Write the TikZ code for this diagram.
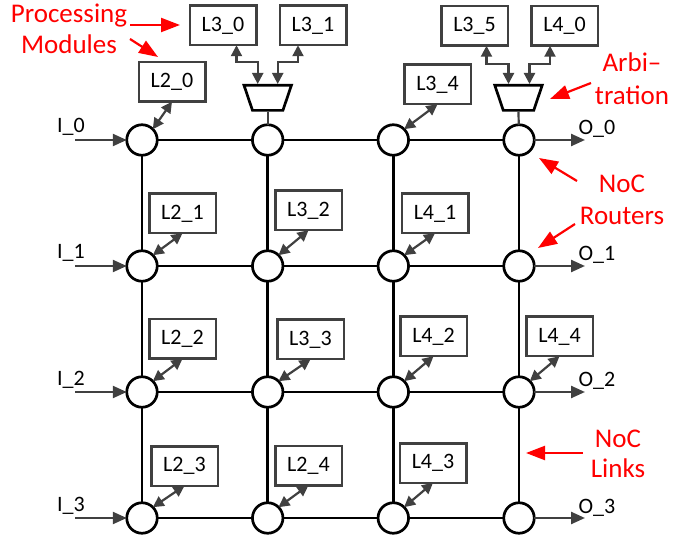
\documentclass[tikz,border=0pt]{standalone}
\usepackage{fontspec}
\setmainfont{Carlito}
\usetikzlibrary{arrows.meta,calc}
\definecolor{dkgray}{HTML}{404040}
\definecolor{annored}{HTML}{FF0000}

\begin{document}
\begin{tikzpicture}[x=1pt,y=-1pt,
  router/.style={circle, draw=black, line width=2.7pt, fill=white,
    minimum size=30.5pt, inner sep=0pt, outer sep=0pt},
  module/.style={draw=dkgray, line width=2.5pt, fill=white,
    minimum width=66.5pt, minimum height=39.5pt, inner sep=0pt, outer sep=0pt,
    font=\fontsize{22}{24}\selectfont},
  arbiter/.style={draw=black, line width=2.7pt, fill=white, line join=miter},
  link/.style={draw=black, line width=2.7pt},
  tap/.style={draw=dkgray, line width=2.2pt},
  iolbl/.style={font=\fontsize{22}{24}\selectfont, inner sep=0pt, anchor=base},
  ioarrow/.style={draw=dkgray, line width=2.4pt, -{Triangle[length=14pt,width=12pt]}},
  modarrow/.style={draw=dkgray, line width=2.2pt,
    {Triangle[length=11pt,width=11pt]}-{Triangle[length=11pt,width=11pt]}},
  arbarrow/.style={draw=dkgray, line width=2.2pt,
    {Triangle[length=11pt,width=11pt]}-{Triangle[length=11pt,width=11pt]}},
  note/.style={text=annored, align=center, inner sep=0pt, anchor=base},
  notearrow/.style={draw=annored, line width=2.2pt, -{Triangle[length=19pt,width=14pt]}}
]
\useasboundingbox (0,0) rectangle (683,537);

% routers of the 4x4 mesh
\foreach \r/\y in {0/140,1/266,2/392,3/518}{
  \foreach \c/\x in {0/142,1/267.7,2/393.3,3/519}{
    \node[router] (R\r\c) at (\x,\y) {};
  }
}

% mesh links
\foreach \r in {0,1,2,3}{
  \draw[link] (R\r0) -- (R\r1);
  \draw[link] (R\r1) -- (R\r2);
  \draw[link] (R\r2) -- (R\r3);
}
\foreach \c in {0,1,2,3}{
  \draw[link] (R0\c) -- (R1\c);
  \draw[link] (R1\c) -- (R2\c);
  \draw[link] (R2\c) -- (R3\c);
}

% processing modules
\node[module] (L20) at (172,82) {L2\_0};
\node[module] (L30) at (223,25.5) {L3\_0};
\node[module] (L31) at (313,25.5) {L3\_1};
\node[module] (L35) at (474.5,26) {L3\_5};
\node[module] (L40) at (564.5,26) {L4\_0};
\node[module] (L34) at (437.5,84.5) {L3\_4};
\node[module] (L21) at (182.5,213.5) {L2\_1};
\node[module] (L32) at (308.5,210.5) {L3\_2};
\node[module] (L41) at (435,213.5) {L4\_1};
\node[module] (L22) at (182.5,339) {L2\_2};
\node[module] (L33) at (310.5,339.5) {L3\_3};
\node[module] (L42) at (433.5,336.5) {L4\_2};
\node[module] (L44) at (559.5,336.5) {L4\_4};
\node[module] (L23) at (184.5,466) {L2\_3};
\node[module] (L24) at (308.5,465.5) {L2\_4};
\node[module] (L43) at (433,463) {L4\_3};

% module <-> router ports
\foreach \m/\rt in {L20/R00,L34/R02,L21/R10,L32/R11,L41/R12,L22/R20,
                    L33/R21,L42/R22,L44/R23,L23/R30,L24/R31,L43/R32}{
  \draw[modarrow] (\m.south) -- (\rt.45);
}

% arbiters for shared router ports (trapezoids, wide side up)
\foreach \t/\x in {T1/267.7,T2/518.5}{
  \draw[arbiter] (\x-23.7,85.3) -- (\x+23.7,85.3) -- (\x+15.2,110.4)
                 -- (\x-15.2,110.4) -- cycle;
  \coordinate (\t n) at (\x,84);
  \coordinate (\t s) at (\x,111.7);
}
\draw[tap] (T1s) -- (R01);
\draw[tap] (T2s) -- (R03);
\draw[arbarrow] ([xshift=13.5pt]L30.south) -- ++(0,17) -| ([xshift=-10pt]T1n);
\draw[arbarrow] ([xshift=-15pt]L31.south) -- ++(0,17) -| ([xshift=10pt]T1n);
\draw[arbarrow] ([xshift=12pt]L35.south) -- ++(0,18) -| ([xshift=-10pt]T2n);
\draw[arbarrow] ([xshift=-14.5pt]L40.south) -- ++(0,18) -| ([xshift=11pt]T2n);

% inputs and outputs
\foreach \r/\y in {0/140,1/266,2/392,3/518}{
  \coordinate (in\r) at (75,\y);
  \coordinate (out\r) at (585,\y);
  \draw[ioarrow] (in\r) -- (R\r0);
  \draw[ioarrow] (R\r3) -- (out\r);
  \node[iolbl] (li\r) at (71,\y-7) {I\_\r};
  \node[iolbl] (lo\r) at (597,\y-5) {O\_\r};
}

% annotations (node base = baseline of the last line)
\node[note, font=\fontsize{27}{31}\selectfont] (pm) at (69,54) {Processing\\Modules};
\coordinate (pmA) at (130,25);  \coordinate (pmAt) at (180,25);
\coordinate (pmB) at (130,39);  \coordinate (pmBt) at (158,57);
\draw[notearrow] (pmA) -- (pmAt);
\draw[notearrow] (pmB) -- (pmBt);

\node[note, font=\fontsize{27}{33}\selectfont] (arb) at (632,105) {Arbi–\\tration};
\coordinate (arbA) at (591,83); \coordinate (arbAt) at (550,99);
\draw[notearrow] (arbA) -- (arbAt);

\node[note, font=\fontsize{27}{32}\selectfont] (nr) at (622,225) {NoC\\Routers};
\coordinate (nrA) at (577,181); \coordinate (nrAt) at (539,158);
\coordinate (nrB) at (575,224); \coordinate (nrBt) at (538,248);
\draw[notearrow] (nrA) -- (nrAt);
\draw[notearrow] (nrB) -- (nrBt);

\node[note, font=\fontsize{27}{30}\selectfont] (nl) at (618,477) {NoC\\Links};
\coordinate (nlA) at (583,453); \coordinate (nlAt) at (526,453);
\draw[notearrow] (nlA) -- (nlAt);
\end{tikzpicture}
\end{document}
